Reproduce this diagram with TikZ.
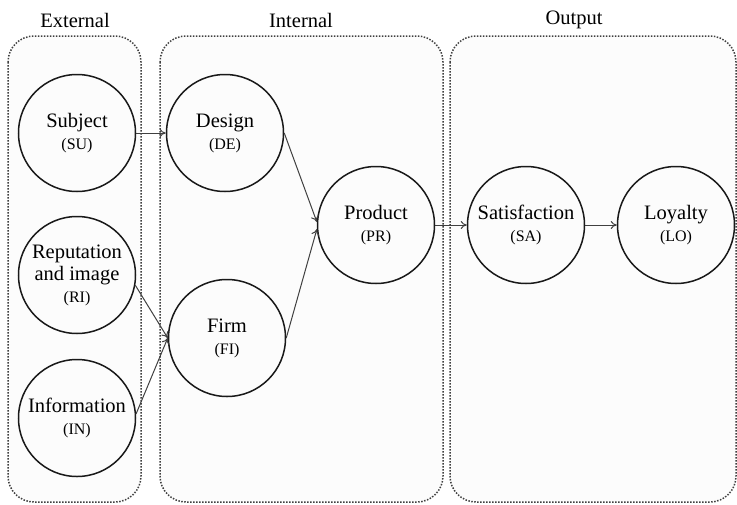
\documentclass[tikz,border=0pt]{standalone}
\usepackage{fontspec}
\setmainfont{Liberation Serif}
\usetikzlibrary{arrows.meta}

\newcommand{\abbr}[1]{{\fontsize{16}{18}\selectfont #1}}

\begin{document}
\begin{tikzpicture}[
    x=1pt, y=-1pt,
    group/.style={draw=black!75, fill=black!1, rounded corners=26pt, line width=1.5pt, dash pattern=on 1.5pt off 1.5pt},
    construct/.style={circle, draw=black!90, line width=1.5pt, minimum size=117pt, inner sep=0pt, align=center, font=\fontsize{20.5}{22}\selectfont},
    heading/.style={font=\fontsize{20.5}{23}\selectfont},
    path/.style={-{To[length=6pt,width=8pt]}, draw=black!75, line width=1pt}
]
\useasboundingbox (0,0) rectangle (737,504);

% Groups (dotted frames)
\draw[group] (8,36) rectangle (141,502);
\draw[group] (160,36) rectangle (443,502);
\draw[group] (450,36) rectangle (736,502);

\node[heading] (hext) at (75,20)  {External};
\node[heading] (hint) at (301,20) {Internal};
\node[heading] (hout) at (574,20) {Output};

% External constructs
\node[construct] (su)   at (77,133) {Subject\\\abbr{(SU)}};
\node[construct] (ri)   at (77,275) {Reputation\\and image\\\abbr{(RI)}};
\node[construct] (info) at (77,418) {Information\\\abbr{(IN)}};

% Internal constructs
\node[construct] (de) at (225,133) {Design\\\abbr{(DE)}};
\node[construct] (fi) at (227,338) {Firm\\\abbr{(FI)}};
\node[construct] (pr) at (376,225) {Product\\\abbr{(PR)}};

% Output constructs
\node[construct] (sa) at (526,225) {Satisfaction\\\abbr{(SA)}};
\node[construct] (lo) at (676,225) {Loyalty\\\abbr{(LO)}};

% Paths
\draw[path] (su.east)  -- (de.west);
\draw[path] (ri.-10)   -- (fi.180);
\draw[path] (info.4)   -- (fi.180);
\draw[path] (de.east)  -- (pr.177);
\draw[path] (fi.east)  -- (pr.184);
\draw[path] (pr.east)  -- (sa.west);
\draw[path] (sa.east)  -- (lo.west);

\end{tikzpicture}
\end{document}
